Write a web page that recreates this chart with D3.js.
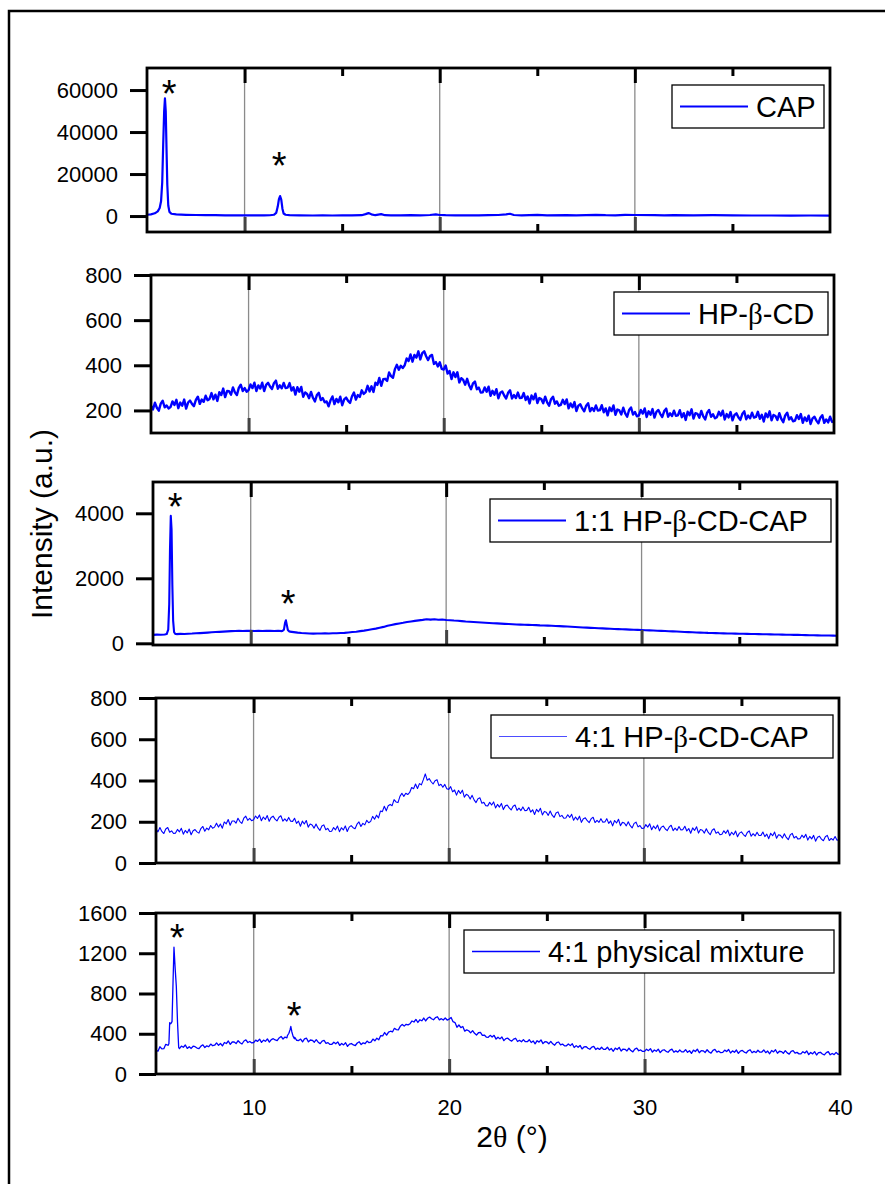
<!DOCTYPE html>
<html>
<head>
<meta charset="utf-8">
<script src="https://cdn.jsdelivr.net/npm/d3@7"></script>
<style>
  body { margin: 0; background: #fff; }
  svg { display: block; }
  text { font-family: "Liberation Sans", Arial, sans-serif; fill: #000; }
</style>
</head>
<body>
<svg id="chart" width="885" height="1184"></svg>
<script>
// ---------------------------------------------------------------
// XRD patterns, 2θ from 5° to 40°
// ---------------------------------------------------------------

// 2θ sampling grids for the broad patterns
const fineGrid = d3.range(351).map(i => +(5 + i * 0.1).toFixed(1));   // 0.1° steps
const coarseGrid = d3.range(176).map(i => +(5 + i * 0.2).toFixed(1)); // 0.2° steps

// Pure drug: sparse [2θ, intensity] samples (sharp crystalline peaks)
const capPattern = [
  [5.0,600],[5.2,800],[5.4,1300],[5.55,2200],[5.65,3800],[5.72,7000],[5.78,16000],
  [5.83,34000],[5.88,50000],[5.92,56000],[5.96,50000],[6.00,32000],[6.04,15000],
  [6.09,5000],[6.15,2000],[6.25,1100],[6.5,800],[7.0,600],[7.5,500],[8.0,450],
  [8.5,400],[9.0,350],[9.5,380],[10.0,300],[10.5,320],[11.0,300],[11.3,380],
  [11.5,600],[11.62,1500],[11.7,4500],[11.76,8000],[11.82,9500],[11.88,7800],
  [11.94,3500],[12.0,1200],[12.1,600],[12.3,400],[12.8,300],[13.5,250],[14.0,350],
  [14.5,250],[15.0,300],[15.5,350],[16.0,400],[16.2,900],[16.35,1400],[16.5,800],
  [16.7,400],[17.0,900],[17.2,400],[17.5,300],[18.0,350],[18.5,400],[19.0,300],
  [19.5,500],[19.8,800],[20.0,500],[20.3,400],[20.8,350],[21.5,300],[22.0,300],
  [22.5,400],[23.0,500],[23.4,800],[23.6,1100],[23.8,500],[24.2,350],[25.0,600],
  [25.5,300],[26.5,400],[27.0,300],[28.0,600],[28.5,400],[29.0,350],[29.5,600],
  [30.0,500],[31.0,400],[31.5,300],[32.0,450],[33.0,300],[34.0,400],[35.0,300],
  [36.0,250],[37.0,250],[38.0,200],[39.0,250],[40.0,200]
];

// Cyclodextrin alone (0.1° grid, one row per degree)
const hpbcdValues = [
  220,204,234,212,199,230,243,214,222,209,
  215,240,224,247,210,235,221,248,208,235,
  244,229,219,247,261,229,248,238,265,245,
  251,277,249,270,242,281,268,297,259,286,
  285,270,302,280,268,300,314,286,299,283,
  290,315,299,323,286,311,297,323,286,313,
  322,306,295,321,332,296,311,298,322,299,
  301,321,288,303,270,303,283,304,260,280,
  273,254,282,256,240,268,278,246,255,236,
  240,218,245,262,228,251,236,261,223,249,
  257,242,233,263,279,248,268,260,289,273,
  281,309,284,307,282,323,313,344,309,338,
  340,331,368,352,345,383,402,380,398,388,
  400,430,419,448,416,446,434,462,426,454,
  462,440,423,441,446,406,414,395,413,384,
  381,399,363,375,339,369,348,369,324,343,
  335,314,340,312,294,320,328,294,301,279,
  280,302,283,305,265,287,270,294,254,278,
  284,266,253,278,289,253,268,255,279,255,
  256,277,246,262,231,266,249,274,233,255,
  250,232,261,236,221,250,261,230,240,221,
  225,247,228,249,209,231,214,237,197,221,
  227,209,196,221,232,196,211,198,222,199,
  201,223,192,209,178,213,197,222,181,204,
  200,182,212,187,172,202,213,182,193,174,
  178,202,186,209,171,196,181,206,168,194,
  202,184,171,197,208,172,187,175,199,176,
  178,201,170,188,158,194,179,205,164,188,
  185,168,198,174,160,190,202,172,183,165,
  170,194,177,199,160,184,169,193,156,180,
  187,170,158,184,196,161,177,165,190,168,
  171,194,163,181,151,187,170,196,156,180,
  175,158,188,163,148,178,190,160,170,152,
  155,179,162,184,145,169,153,177,140,165,
  172,155,143,168,179,145,160,147,172,149,
  152
];

// 1:1 complex: halo on the 0.2° grid plus residual drug peaks
const complex11Values = [
  258,266,262,270,275,280,284,290,286,296,
  300,308,314,322,330,338,346,352,360,366,
  374,380,384,378,388,382,378,386,380,384,
  388,380,386,376,370,360,345,330,318,310,
  302,298,304,300,306,302,310,308,316,322,
  334,346,358,374,390,410,430,452,478,505,
  540,565,590,612,632,655,672,690,705,720,
  738,730,742,725,732,718,710,700,695,682,
  670,662,655,648,640,632,626,618,612,605,
  598,592,588,580,576,570,566,562,558,552,
  550,544,540,534,528,522,516,510,502,496,
  488,482,476,470,462,458,452,446,442,436,
  432,428,422,418,412,408,402,398,392,386,
  384,378,372,366,362,356,350,344,338,334,
  330,326,320,318,314,310,306,304,300,298,
  295,292,290,288,285,282,280,278,275,272,
  270,268,265,262,260,258,255,252,250,248,
  245,242,240,238,236,234
];
const complex11Peaks = [
  [[5.70,285],[5.78,420],[5.83,1200],[5.87,2900],[5.91,3920],[5.95,3500],[5.99,1800],[6.03,700],[6.08,340],[6.14,290]],
  [[11.62,378],[11.70,420],[11.76,640],[11.80,710],[11.85,560],[11.90,410],[11.96,372]]
];

// 4:1 complex (0.1° grid, one row per degree)
const complex41Values = [
  165,151,172,153,143,165,172,149,156,143,
  145,163,151,168,140,158,146,165,137,156,
  162,151,145,167,177,154,169,161,182,169,
  174,193,174,189,169,199,190,211,183,204,
  204,193,217,201,192,217,227,207,216,205,
  210,228,216,233,205,223,211,230,202,221,
  227,213,204,222,229,203,214,203,221,203,
  202,217,192,203,178,203,189,206,174,189,
  184,169,189,170,158,179,185,161,168,153,
  154,172,161,179,152,171,160,180,153,174,
  181,171,166,188,199,177,192,185,207,195,
  202,226,212,232,218,252,249,275,253,278,
  284,278,307,296,293,323,338,323,338,332,
  342,366,360,383,361,385,379,404,432,401,
  409,394,383,399,404,375,382,367,381,360,
  357,370,345,354,329,352,337,353,319,333,
  327,310,328,306,293,312,316,290,294,278,
  277,294,281,296,267,284,271,289,259,277,
  281,267,257,275,281,255,266,254,272,254,
  255,270,247,258,235,260,248,265,233,250,
  246,231,252,232,221,242,248,225,231,217,
  218,234,221,236,207,223,209,227,197,215,
  219,205,196,215,222,196,207,197,215,198,
  199,215,192,204,180,206,194,212,181,197,
  194,180,200,181,170,192,198,175,182,167,
  169,186,174,190,161,179,166,184,156,174,
  179,165,157,175,183,157,169,158,177,160,
  162,178,155,167,144,170,158,176,145,162,
  159,145,166,148,137,159,166,144,151,137,
  139,156,144,160,132,149,137,155,127,145,
  151,138,129,148,156,130,142,131,149,133,
  134,150,128,140,118,144,132,150,120,137,
  134,121,142,124,113,136,144,121,129,116,
  118,135,123,139,111,129,117,134,106,125,
  130,116,108,127,134,109,119,111,128,110,
  113
];

// 4:1 physical mixture: halo on the 0.1° grid plus drug peaks
const mixtureValues = [
  235,226,271,250,252,295,288,500,510,900,
  1000,870,252,277,266,288,254,271,254,276,
  271,258,252,277,290,263,280,271,297,281,
  286,309,285,303,279,313,303,328,294,318,
  318,303,331,310,298,328,339,313,323,309,
  313,337,324,346,314,337,325,349,317,342,
  351,338,332,358,373,348,367,360,400,440,
  360,365,335,333,347,319,349,356,319,338,
  335,316,341,316,302,327,334,305,312,294,
  295,316,300,319,284,304,289,310,275,297,
  303,289,283,308,320,293,310,301,327,311,
  316,347,330,356,340,382,379,412,386,417,
  425,418,454,441,438,475,493,476,494,488,
  500,527,517,542,512,539,529,556,527,554,
  566,549,539,560,569,538,550,536,557,536,
  546,562,520,511,465,487,461,472,426,439,
  430,409,431,404,387,410,414,383,387,367,
  365,384,367,384,347,366,349,368,332,352,
  356,338,327,347,355,323,335,321,342,321,
  321,341,313,328,300,331,317,339,302,321,
  318,300,324,300,286,312,318,290,297,280,
  280,299,282,300,263,282,265,284,249,269,
  273,256,246,267,275,244,257,244,266,245,
  246,266,238,253,226,257,243,265,228,248,
  245,229,256,233,220,248,257,231,239,224,
  225,247,232,252,218,239,226,247,213,234,
  241,225,216,237,247,216,230,217,239,220,
  221,242,215,231,205,237,224,247,211,232,
  230,214,241,219,207,235,244,218,227,212,
  215,237,223,243,209,230,216,238,205,227,
  234,218,209,231,241,211,225,213,236,217,
  218,239,212,228,201,233,220,241,206,226,
  223,206,232,210,198,225,233,207,215,200,
  200,222,208,228,192,214,200,222,189,212,
  216,199,190,212,222,191,204,193,215,196,
  200
];
const mixturePeaks = [
  [[5.62,285],[5.66,300],[5.70,510],[5.76,500],[5.82,520],[5.87,900],[5.92,1260],[5.98,1050],[6.04,870],[6.10,520],[6.16,265]],
  [[11.72,380],[11.80,405],[11.86,440],[11.90,472],[11.95,420],[12.02,372],[12.08,350]]
];

// Legend labels (β rendered as its own span)
const seriesNames = [
  ["CAP"],
  ["HP-", "β", "-CD"],
  ["1:1 HP-", "β", "-CD-CAP"],
  ["4:1 HP-", "β", "-CD-CAP"],
  ["4:1 physical mixture"]
];

// y-axis tick values and ranges per panel
const yTicks = [
  [0, 20000, 40000, 60000],
  [200, 400, 600, 800],
  [0, 2000, 4000],
  [0, 200, 400, 600, 800],
  [0, 400, 800, 1200, 1600]
];
const yDomains = [
  [-7600, 70500],
  [100, 800],
  [-52, 4963],
  [0, 800],
  [0, 1600]
];

// x-axis ticks
const xDomain = [5, 40];
const xMajor = [10, 20, 30];
const xMinor = [15, 25, 35];
const xLabels = [10, 20, 30, 40];

// Crystalline-peak markers [2θ, intensity]
const starMarks = [
  [[6.13, 62400], [11.77, 28100]],
  [],
  [[6.13, 4470], [11.91, 1486]],
  [],
  [[6.08, 1438], [12.07, 666]]
];

// Merge a gridded halo with sparse peak samples
function assemble(grid, values, peaks) {
  const pts = grid.map((t, i) => [t, values[i]])
    .filter(([t]) => !peaks.some(p => t >= p[0][0] && t <= p[p.length - 1][0]));
  peaks.forEach(p => pts.push(...p));
  return pts.sort((a, b) => a[0] - b[0]);
}

const seriesData = [
  capPattern,
  assemble(fineGrid, hpbcdValues, []),
  assemble(coarseGrid, complex11Values, complex11Peaks),
  assemble(fineGrid, complex41Values, []),
  assemble(fineGrid, mixtureValues, mixturePeaks)
];

// Panel frames on the page
const panels = [
  { left: 147, right: 830, top: 68,  bottom: 232,  width: 2.2, legendW: 152, legendLine: 2.2 },
  { left: 151, right: 834, top: 275, bottom: 433,  width: 2.4, legendW: 214, legendLine: 2.2 },
  { left: 153, right: 837, top: 482, bottom: 645,  width: 2.1, legendW: 341, legendLine: 2.2 },
  { left: 156, right: 839, top: 698, bottom: 863,  width: 1.1, legendW: 342, legendLine: 1.0 },
  { left: 156, right: 840, top: 913, bottom: 1074, width: 1.3, legendW: 370, legendLine: 1.3 }
];

const svg = d3.select("#chart");
const BLUE = "#0000ff";

// outer border
svg.append("rect")
  .attr("x", 9).attr("y", 11)
  .attr("width", 900).attr("height", 1200)
  .attr("fill", "none").attr("stroke", "#000").attr("stroke-width", 2.5);

panels.forEach((p, i) => {
  const x = d3.scaleLinear().domain(xDomain).range([p.left, p.right]);
  const y = d3.scaleLinear().domain(yDomains[i]).range([p.bottom, p.top]);
  const g = svg.append("g");

  const clipId = "clip" + i;
  svg.append("clipPath").attr("id", clipId)
    .append("rect")
    .attr("x", p.left).attr("y", p.top)
    .attr("width", p.right - p.left).attr("height", p.bottom - p.top);

  // vertical grid lines
  g.selectAll("line.grid").data(xMajor).join("line")
    .attr("class", "grid")
    .attr("x1", d => x(d)).attr("x2", d => x(d))
    .attr("y1", p.top).attr("y2", p.bottom)
    .attr("stroke", "#8a8a8a").attr("stroke-width", 1.3);

  // pattern trace
  const line = d3.line().x(d => x(d[0])).y(d => y(d[1]));
  g.append("path")
    .datum(seriesData[i])
    .attr("clip-path", `url(#${clipId})`)
    .attr("d", line)
    .attr("fill", "none")
    .attr("stroke", BLUE)
    .attr("stroke-width", p.width)
    .attr("stroke-linejoin", "round");

  // x ticks, pointing inward on top and bottom edges
  const styleTicks = sel => {
    sel.select(".domain").remove();
    sel.selectAll(".tick line").attr("stroke", "#000").attr("stroke-width", 3);
  };
  g.append("g").attr("transform", `translate(0,${p.top})`)
    .call(d3.axisTop(x).tickValues(xMajor).tickSize(-15).tickFormat(""))
    .call(styleTicks);
  g.append("g").attr("transform", `translate(0,${p.top})`)
    .call(d3.axisTop(x).tickValues(xMinor).tickSize(-8).tickFormat(""))
    .call(styleTicks);
  g.append("g").attr("transform", `translate(0,${p.bottom})`)
    .call(d3.axisBottom(x).tickValues(xMajor).tickSize(-15).tickFormat(""))
    .call(styleTicks)
    .call(s => s.selectAll(".tick line").attr("stroke", "#444"));
  g.append("g").attr("transform", `translate(0,${p.bottom})`)
    .call(d3.axisBottom(x).tickValues(xMinor).tickSize(-8).tickFormat(""))
    .call(styleTicks);

  if (i === panels.length - 1) {
    const lab = g.append("g").attr("transform", `translate(0,${p.bottom})`)
      .call(d3.axisBottom(x).tickValues(xLabels).tickSize(0).tickPadding(25).tickFormat(d3.format("d")));
    lab.select(".domain").remove();
    lab.selectAll("text").attr("font-size", 22).attr("fill", "#000");
  }

  // y axis with outward ticks
  const ya = g.append("g").attr("transform", `translate(${p.left},0)`)
    .call(d3.axisLeft(y).tickValues(yTicks[i]).tickSize(17).tickPadding(12).tickFormat(d3.format("d")));
  ya.select(".domain").remove();
  ya.selectAll(".tick line").attr("stroke", "#000").attr("stroke-width", 3);
  ya.selectAll("text").attr("font-size", 22).attr("fill", "#000");

  // panel frame
  g.append("rect")
    .attr("x", p.left).attr("y", p.top)
    .attr("width", p.right - p.left).attr("height", p.bottom - p.top)
    .attr("fill", "none").attr("stroke", "#000").attr("stroke-width", 2.8);

  // legend box
  const lw = p.legendW, lh = 43;
  const lx = p.right - 6 - lw, ly = p.top + 17;
  const lg = g.append("g").attr("transform", `translate(${lx},${ly})`);
  lg.append("rect").attr("width", lw).attr("height", lh)
    .attr("fill", "#fff").attr("stroke", "#000").attr("stroke-width", 1.3);
  lg.append("line")
    .attr("x1", 8).attr("x2", 76).attr("y1", lh / 2).attr("y2", lh / 2)
    .attr("stroke", i === 3 ? "#4d4dff" : BLUE).attr("stroke-width", p.legendLine);
  const t = lg.append("text").attr("x", 84).attr("y", lh / 2 + 10.5).attr("font-size", 29);
  seriesNames[i].forEach(part => {
    const span = t.append("tspan").text(part);
    if (part === "β") span.style("font-family", "'Liberation Serif', 'DejaVu Serif', serif");
  });

  // peak markers
  g.selectAll("text.star").data(starMarks[i]).join("text")
    .attr("class", "star")
    .attr("x", d => x(d[0])).attr("y", d => y(d[1]))
    .attr("dy", "0.57em")
    .attr("text-anchor", "middle")
    .attr("font-size", 38)
    .text("*");
});

// axis titles
svg.append("text")
  .attr("transform", "translate(52,524) rotate(-90)")
  .attr("text-anchor", "middle")
  .attr("font-size", 30)
  .text("Intensity (a.u.)");

const xt = svg.append("text")
  .attr("x", 512).attr("y", 1147)
  .attr("text-anchor", "middle")
  .attr("font-size", 30);
xt.append("tspan").text("2");
xt.append("tspan").style("font-family", "'Liberation Serif', 'DejaVu Serif', serif").text("θ");
xt.append("tspan").text(" (°)");
</script>
</body>
</html>
